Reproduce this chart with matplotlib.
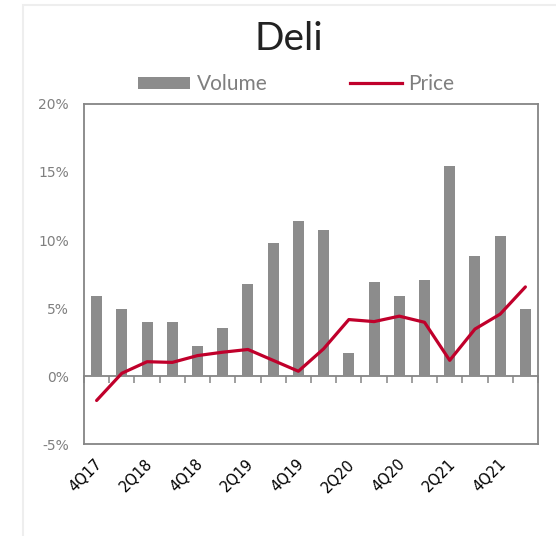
import matplotlib
matplotlib.use("Agg")
import matplotlib.pyplot as plt
import matplotlib.transforms as mtransforms
from matplotlib.patches import Rectangle, Patch
from matplotlib.lines import Line2D
from matplotlib.ticker import FuncFormatter

quarters = ["4Q17", "1Q18", "2Q18", "3Q18", "4Q18", "1Q19", "2Q19", "3Q19", "4Q19",
            "1Q20", "2Q20", "3Q20", "4Q20", "1Q21", "2Q21", "3Q21", "4Q21", "1Q22"]
volume = [5.9, 4.9, 4.0, 4.0, 2.2, 3.55, 6.8, 9.75, 11.4,
          10.7, 1.7, 6.9, 5.9, 7.05, 15.45, 8.8, 10.3, 4.95]
price = [-1.8, 0.2, 1.05, 1.0, 1.5, 1.75, 1.95, 1.15, 0.35,
         2.0, 4.15, 4.0, 4.4, 3.95, 1.15, 3.45, 4.55, 6.55]
y_ticks = [-5, 0, 5, 10, 15, 20]

BAR = "#8c8c8c"
LINE = "#c0002b"
FRAME = "#858585"

fig = plt.figure(figsize=(5.56, 5.36), dpi=100)
W, H = 556, 536

# light outer border of the chart card
fig.patches.append(Rectangle((23 / W, -0.1), 1.2, (H - 5) / H + 0.1,
                             transform=fig.transFigure, fill=False,
                             edgecolor="#eeeeee", linewidth=1.5))

ax = fig.add_axes([84 / W, (H - 444) / H, (538 - 84) / W, (444 - 104) / H])
x = list(range(len(quarters)))
ax.bar(x, volume, width=0.44, color=BAR, zorder=2)
ax.plot(x, price, color=LINE, linewidth=2.3, zorder=3, solid_capstyle="round")

ax.set_xlim(-0.5, len(quarters) - 0.5)
ax.set_ylim(-5, 20)
ax.set_yticks(y_ticks)
ax.yaxis.set_major_formatter(FuncFormatter(lambda v, p: f"{v:.0f}%"))
ax.tick_params(axis="y", length=0, pad=11, labelsize=10, labelcolor="#7f7f7f")
for lab in ax.get_yticklabels():
    lab.set_fontfamily("DejaVu Sans")

for s in ax.spines.values():
    s.set_color(FRAME)
    s.set_linewidth(1.3)

# category labels below the frame, every other quarter
ax.set_xticks(x[::2])
ax.set_xticklabels(quarters[::2], rotation=45, ha="right", va="top",
                   rotation_mode="anchor", fontsize=10.5, color="black",
                   fontfamily="DejaVu Sans")
ax.tick_params(axis="x", length=0, pad=9)
offset = mtransforms.ScaledTranslation(-2 / 100, 0, fig.dpi_scale_trans)
for lab in ax.get_xticklabels():
    lab.set_transform(lab.get_transform() + offset)

# zero axis with tick marks between categories
zero = ax.secondary_xaxis(0, transform=ax.transData)
zero.set_xticks([i - 0.5 for i in range(len(quarters) + 1)])
zero.set_xticklabels([])
zero.tick_params(axis="x", length=5, width=1.1, color=FRAME, direction="out")
zero.spines["bottom"].set_color(FRAME)
zero.spines["bottom"].set_linewidth(1.3)

fig.text(289 / W, (H - 50) / H, "Deli", ha="center", va="baseline",
         fontsize=28, fontfamily="Lato", color="#222222")

handles = [Patch(facecolor=BAR, edgecolor="none"),
           Line2D([0], [0], color=LINE, linewidth=2.3)]
leg = fig.legend(handles, ["Volume", "Price"], loc="center",
                 bbox_to_anchor=(296 / W, (H - 84) / H), ncol=2, frameon=False,
                 prop={"family": "Lato", "size": 15}, handlelength=2.5,
                 handleheight=0.5, handletextpad=0.3, columnspacing=3.95)
for t in leg.get_texts():
    t.set_color("#7f7f7f")

fig.savefig("out.png", dpi=100)
